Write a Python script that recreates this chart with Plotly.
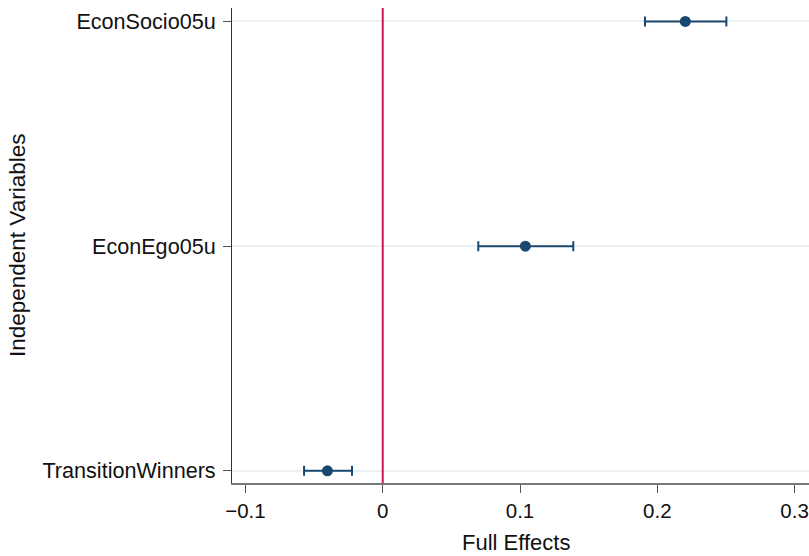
import plotly.graph_objects as go

variables = ["TransitionWinners", "EconEgo05u", "EconSocio05u"]
estimates = [-0.0403, 0.1039, 0.2204]
ci_low = [-0.0573, 0.0696, 0.1910]
ci_high = [-0.0224, 0.1388, 0.2503]
x_tickvals = [-0.1, 0, 0.1, 0.2, 0.3]
x_ticktext = ["\u22120.1", "0", "0.1", "0.2", "0.3"]

ypos = list(range(len(variables)))
err_plus = [h - e for h, e in zip(ci_high, estimates)]
err_minus = [e - l for e, l in zip(estimates, ci_low)]

navy = "#1a476f"
font = "Liberation Sans, Arial, Helvetica, sans-serif"

fig = go.Figure()
fig.add_trace(go.Scatter(
    x=estimates, y=ypos, mode="markers",
    marker=dict(color=navy, size=11),
    error_x=dict(type="data", symmetric=False, array=err_plus, arrayminus=err_minus,
                 color=navy, thickness=2, width=5),
    showlegend=False,
))

fig.add_shape(type="line", xref="x", yref="paper", x0=0, x1=0, y0=0, y1=1,
              line=dict(color="#d0164a", width=2))

fig.update_layout(
    width=809, height=556,
    margin=dict(l=232, r=0, t=8, b=73, autoexpand=False),
    plot_bgcolor="white", paper_bgcolor="white",
    font=dict(family=font, color="#111111"),
    xaxis=dict(
        range=[-0.1098, 0.3105], tickvals=x_tickvals, ticktext=x_ticktext,
        showgrid=False, zeroline=False,
        showline=True, linecolor="#777777", linewidth=2,
        ticks="outside", ticklen=8, tickcolor="#555555", tickwidth=1,
        tickfont=dict(size=20.5, family=font, color="#111111"),
        ticklabeloverflow="allow", automargin=False,
    ),
    yaxis=dict(
        range=[-0.054, 2.06], tickvals=ypos, ticktext=variables,
        showgrid=True, gridcolor="#eaf0f3", gridwidth=2,
        zeroline=False,
        showline=True, linecolor="#333333", linewidth=1,
        ticks="outside", ticklen=8, tickcolor="#555555", tickwidth=1,
        tickfont=dict(size=21.6, family=font, color="#111111"),
        ticklabelstandoff=3,
        automargin=False,
    ),
    annotations=[
        dict(text="Full Effects", xref="paper", yref="paper", x=0, y=0,
             xanchor="center", yanchor="top", xshift=515.5 - 232, yshift=-45,
             showarrow=False, font=dict(size=22, family=font, color="#111111")),
        dict(text="Independent Variables", xref="paper", yref="paper", x=0, y=0.5,
             xanchor="center", yanchor="middle", xshift=17.5 - 232, textangle=-90,
             showarrow=False, font=dict(size=22.5, family=font, color="#111111")),
    ],
)

fig.write_html("out.html", config={"displayModeBar": False},
               post_script="document.body.style.margin='0';document.body.style.overflow='hidden';")
